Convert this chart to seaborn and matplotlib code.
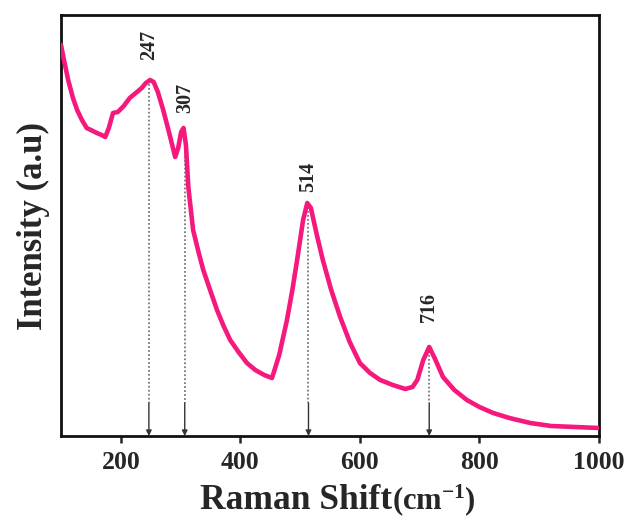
import numpy as np
import pandas as pd
import matplotlib
matplotlib.use("Agg")
import matplotlib.pyplot as plt
import seaborn as sns

# Raman spectrum (arbitrary intensity units)
shift = [100, 105, 112, 120, 127, 135, 143, 150, 160, 168, 174, 180, 187, 195,
         205, 215, 225, 235, 242, 249, 255, 262, 271, 281, 291, 296, 301, 305,
         309, 313, 321, 330, 338, 350, 361, 372, 383, 397, 411, 425, 440, 453,
         465, 478, 487, 495, 505, 512, 518, 528, 538, 552, 567, 583, 600, 617,
         634, 655, 676, 688, 696, 706, 716, 725, 739, 758, 779, 800, 823, 850,
         885, 920, 960, 1000]
intensity = [391, 376, 356, 338, 326, 316, 308, 306, 303, 301, 299, 308, 323, 324,
             330, 338, 343, 348, 353, 356, 354, 344, 326, 303, 279, 288, 304, 308,
             291, 249, 206, 184, 166, 145, 126, 110, 96, 84, 73, 66, 61, 58,
             81, 116, 146, 176, 216, 233, 228, 201, 176, 146, 119, 94, 73, 63,
             56, 51, 47, 49, 56, 76, 89, 78, 59, 46, 36, 29, 23, 18,
             13, 10, 9, 8]

# Labelled peaks and their heights on the curve
peak_pos = [247, 307, 514, 716]
peak_height = [356, 308, 233, 89]
peak_label = ["247", "307", "514", "716"]

xticks = [200, 400, 600, 800, 1000]

sns.set_style("white")
plt.rcParams["font.family"] = ["Liberation Serif", "DejaVu Serif"]
plt.rcParams["mathtext.fontset"] = "custom"
plt.rcParams["mathtext.rm"] = "Liberation Serif:bold"
plt.rcParams["mathtext.bf"] = "Liberation Serif:bold"
plt.rcParams["mathtext.default"] = "rm"

W, H = 626, 518
fig = plt.figure(figsize=(W / 100, H / 100), dpi=100)
ax = fig.add_axes([61 / W, 82 / H, 538 / W, 421 / H])

df = pd.DataFrame({"shift": shift, "intensity": intensity})
sns.lineplot(data=df, x="shift", y="intensity", ax=ax, color="#F5197D",
             lw=3.3, zorder=3)

ax.set_xlim(100, 1000)
ax.set_ylim(0, 421)

# Peak markers: dotted drop line, then a short arrow onto the axis
arrow_top = 33
label_gap = [20, 15, 11, 25]
for xp, hp, lab, gap in zip(peak_pos, peak_height, peak_label, label_gap):
    ax.plot([xp, xp], [hp, arrow_top], ls=(0, (1, 1.2)), color="#777777",
            lw=1.3, zorder=2)
    ax.annotate("", xy=(xp, 0), xytext=(xp, arrow_top),
                arrowprops=dict(arrowstyle="-|>", color="#333333", lw=1.0,
                                mutation_scale=8, shrinkA=0, shrinkB=0),
                zorder=2)
    ax.text(xp, hp + gap, lab, rotation=90, ha="center", va="bottom",
            fontsize=14.5, fontweight="bold")

ax.set_xticks(xticks)
ax.set_xticklabels([str(t) for t in xticks])
ax.set_yticks([])
ax.tick_params(axis="x", direction="out", length=5, width=1.8, pad=6,
               labelsize=18.5, bottom=True)
for lbl in ax.get_xticklabels():
    lbl.set_fontweight("bold")

for sp in ax.spines.values():
    sp.set_linewidth(2.0)
    sp.set_color("#111111")

ax.set_xlabel("")
ax.set_ylabel("Intensity (a.u)", fontsize=25, fontweight="bold", labelpad=8)

# x-axis title: large "Raman Shift" followed by a smaller unit part
base_y = 9 / H
t1 = fig.text(200 / W, base_y, "Raman Shift", fontsize=25.5, fontweight="bold",
              ha="left", va="baseline")
fig.canvas.draw()
bb = t1.get_window_extent(fig.canvas.get_renderer())
fig.text(bb.x1 / W, base_y, r"(cm$^{-1}$)", fontsize=22, fontweight="bold",
         ha="left", va="baseline")

fig.savefig("out.png", dpi=100)
